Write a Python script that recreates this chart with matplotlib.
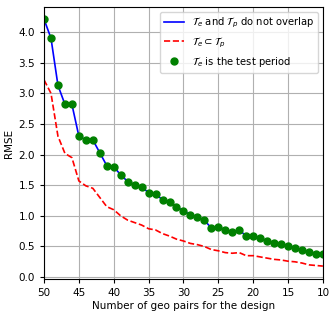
import matplotlib.pyplot as plt
import numpy as np

n_pairs = list(range(50, 9, -1))
rmse_no_overlap = [4.21, 3.90, 3.13, 2.82, 2.82, 2.30, 2.24, 2.24, 2.03, 1.82,
                   1.80, 1.67, 1.56, 1.51, 1.47, 1.38, 1.36, 1.26, 1.23, 1.15,
                   1.08, 1.02, 0.98, 0.93, 0.80, 0.82, 0.77, 0.74, 0.77, 0.67,
                   0.67, 0.64, 0.59, 0.56, 0.54, 0.51, 0.48, 0.45, 0.41, 0.38, 0.37]
rmse_subset = [3.22, 3.00, 2.30, 2.02, 1.95, 1.57, 1.49, 1.45, 1.30, 1.15,
               1.10, 1.00, 0.93, 0.89, 0.85, 0.79, 0.77, 0.71, 0.67, 0.62,
               0.59, 0.55, 0.53, 0.50, 0.45, 0.43, 0.40, 0.39, 0.40, 0.35,
               0.35, 0.33, 0.31, 0.29, 0.28, 0.26, 0.25, 0.23, 0.20, 0.19, 0.18]
rmse_test = rmse_no_overlap

fig = plt.figure(figsize=(3.36, 3.17), dpi=100)
ax = fig.add_axes([0.131, 0.12, 0.83, 0.858])

ax.plot(n_pairs, rmse_no_overlap, '-', color='b', lw=1.2,
        label=r'$\mathcal{T}_e$ and $\mathcal{T}_p$ do not overlap')
ax.plot(n_pairs, rmse_subset, '--', color='r', lw=1.2,
        label=r'$\mathcal{T}_e \subset \mathcal{T}_p$')
ax.plot(n_pairs, rmse_test, 'o', color='g', ms=5,
        label=r'$\mathcal{T}_e$ is the test period')

ax.set_xlim(50, 10)
ax.set_ylim(-0.03, 4.41)
ax.set_xticks(np.arange(50, 9, -5))
ax.set_yticks(np.arange(0, 4.01, 0.5))
ax.tick_params(labelsize=7.5, length=3)
ax.grid(True, color='#b0b0b0', lw=0.8)
ax.set_xlabel('Number of geo pairs for the design', fontsize=7.5, labelpad=2)
ax.set_ylabel('RMSE', fontsize=7.5, labelpad=3)
ax.legend(fontsize=7.2, loc='upper right')

plt.savefig('out.png')
